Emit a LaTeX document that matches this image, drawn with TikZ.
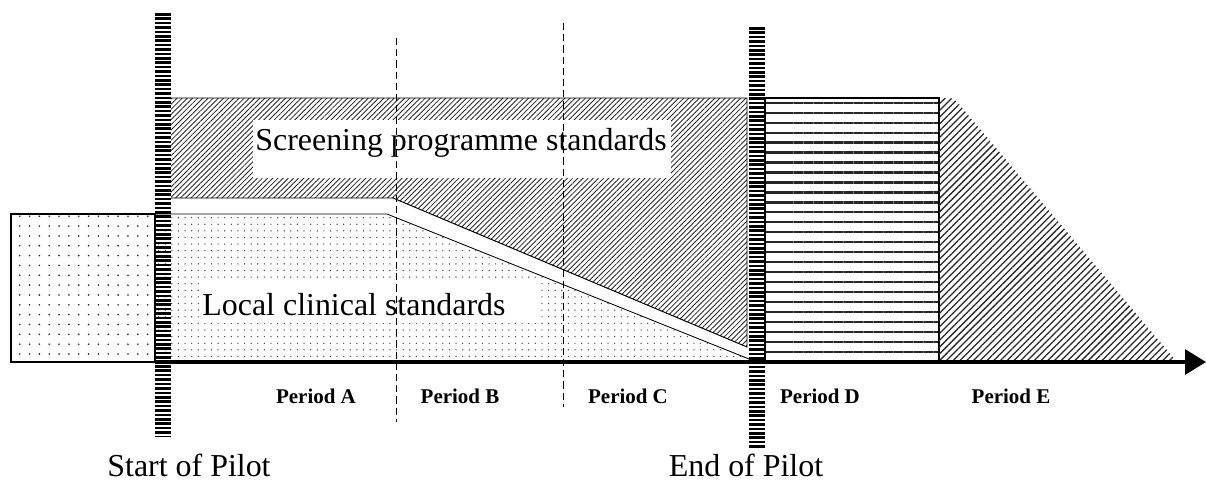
\documentclass[tikz,border=0pt]{standalone}
\usepackage{fontspec}
\setmainfont{Liberation Serif}
\usetikzlibrary{arrows.meta, patterns.meta}

\begin{document}
\begin{tikzpicture}[
    x=0.025cm, y=-0.025cm,
    bigtext/.style={font=\fontsize{22.7}{26}\selectfont, inner sep=0pt, anchor=base},
    period/.style={font=\fontsize{14.9}{18}\selectfont\bfseries, inner sep=0pt, anchor=base},
    labelbox/.style={fill=white, inner sep=0pt},
    pilot/.style={line width=0.4cm, dash pattern=on 0.065cm off 0.045cm},
    divider/.style={line width=0.7pt, dash pattern=on 0.18cm off 0.1cm},
    timeline/.style={line width=2.2pt, -{Triangle[length=0.52cm, width=0.62cm]}},
    legacy/.style={draw, line width=1pt, pattern={Dots[distance=7pt, radius=0.65pt]}, pattern color=black!85},
    localstd/.style={pattern={Dots[distance=4.7pt, radius=0.5pt]}, pattern color=black!75},
    screenstd/.style={pattern={Lines[angle=45, distance=2.6pt, line width=0.6pt]}, pattern color=black!85},
    handover/.style={draw, line width=1pt, pattern={Lines[angle=0, distance=7.1pt, line width=1.5pt]}, pattern color=black!85},
    rollout/.style={pattern={Lines[angle=45, distance=3.4pt, line width=0.9pt]}, pattern color=black!85}
]
    \useasboundingbox (0,0) rectangle (1206,482);

    % time axis end points
    \coordinate (t0) at (155,362);
    \coordinate (tend) at (1206,362);

    % before the pilot
    \filldraw[legacy] (11,214) rectangle (155,362);

    % local clinical standards, tapering off
    \fill[localstd] (155,214) -- (387,214) -- (749,359) -- (749,362) -- (155,362) -- cycle;
    \draw[line width=0.6pt] (155,214) -- (387,214) -- (749,359);

    % screening programme standards, taking over
    \filldraw[screenstd, line width=0.7pt] (171,98) -- (747,98) -- (747,347) -- (393,198) -- (171,198);

    % labels on white patches
    \node[labelbox, minimum width=10.45cm, minimum height=1.45cm] (scrbox) at (462,149) {};
    \node[bigtext] (scrlbl) at (461,150) {Screening programme standards};
    \node[labelbox, minimum width=8.5cm, minimum height=1.025cm] (locbox) at (370,302.5) {};
    \node[bigtext] (loclbl) at (354,315) {Local clinical standards};

    % periods D and E
    \filldraw[handover] (765,98) rectangle (939,362);
    \fill[rollout] (939,362) -- (939,98) -- (946,98) .. controls (953,98) .. (958,103) -- (1177,362) -- cycle;

    % period dividers
    \draw[divider] (396,38) -- (396,422);
    \draw[divider] (563,23) -- (563,407);

    \draw[timeline] (t0) -- (tend);

    % start and end of pilot
    \draw[pilot] (163,13) -- (163,436);
    \draw[pilot] (757,27) -- (757,448);

    \node[period] (pa) at (316,403) {Period A};
    \node[period] (pb) at (460,403) {Period B};
    \node[period] (pc) at (628,403) {Period C};
    \node[period] (pd) at (820,403) {Period D};
    \node[period] (pe) at (1011,403) {Period E};

    \node[bigtext] (start) at (189,476) {Start of Pilot};
    \node[bigtext] (end) at (746,476) {End of Pilot};
\end{tikzpicture}
\end{document}
